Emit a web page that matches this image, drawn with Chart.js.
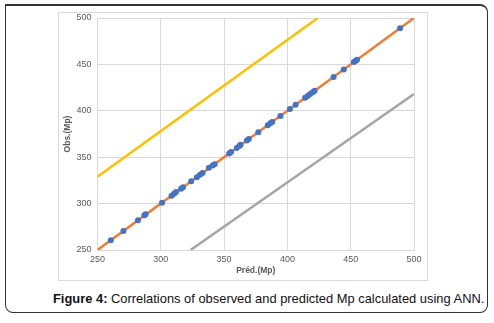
<!DOCTYPE html>
<html>
<head>
<meta charset="utf-8">
<script src="https://cdn.jsdelivr.net/npm/chart.js@4/dist/chart.umd.min.js"></script>
<style>
  body { margin: 0; background: #fff; font-family: "Liberation Sans", Arial, sans-serif; }
  #page { position: relative; width: 494px; height: 323px; }
  #frame {
    position: absolute; left: 5px; top: 4px; width: 481px; height: 306px;
    border: 1.5px solid #333; border-top-width: 2px; border-radius: 0 8px 8px 8px;
  }
  #box {
    position: absolute; left: 58px; top: 12px; width: 368px; height: 267px;
    border: 1px solid #d9d9d9;
  }
  #caption {
    position: absolute; left: 53px; top: 291px; font-size: 12.9px; color: #111; white-space: nowrap;
  }
</style>
</head>
<body>
<div id="page">
  <div id="frame"></div>
  <div id="box"><canvas id="chart" width="368" height="267"></canvas></div>
  <div id="caption"><b>Figure 4:</b> Correlations of observed and predicted Mp calculated using ANN.</div>
</div>
<script>
// predicted vs observed melting points (Mp)
const predicted = [260.5, 270.5, 282, 287, 288, 301, 308.5, 310.5, 312, 316, 317.5, 324, 328.5, 331, 333,
  338, 341, 342.5, 354, 355.5, 360, 362, 363, 368, 369.5, 377, 384.5, 386.5, 388, 394.5, 402, 406.5,
  414, 416, 418, 420, 421.5, 436.5, 444.5, 452.5, 454, 455, 489];
const observed = [260.5, 270.5, 282, 287.5, 288.5, 301, 308.5, 310.5, 312.5, 316, 317.5, 324, 328.5, 331, 333,
  338.5, 341, 342.5, 354, 355.5, 360, 362, 363.5, 368, 369.5, 377, 384.5, 386.5, 388, 394.5, 402, 406.5,
  414, 416, 418, 420, 421.5, 436.5, 444.5, 452.5, 454, 455, 489];

// reference lines
const idealX = [250, 500], idealY = [250, 500];
const upperX = [250, 424], upperY = [329, 500];
const lowerX = [323.5, 500], lowerY = [250, 418];

const toXY = (xs, ys) => xs.map((x, i) => ({ x: x, y: ys[i] }));

const tickFont = { family: 'Liberation Sans', size: 9 };
const titleFont = { family: 'Liberation Sans', size: 8.5, weight: 'bold' };

new Chart(document.getElementById('chart').getContext('2d'), {
  type: 'scatter',
  data: {
    datasets: [
      {
        label: 'Mp',
        data: toXY(predicted, observed),
        backgroundColor: '#4472c4',
        borderColor: '#4472c4',
        pointRadius: 3,
        pointBorderWidth: 0,
      },
      {
        type: 'line', label: 'ideal', data: toXY(idealX, idealY),
        borderColor: '#ed7d31', borderWidth: 2.5, pointRadius: 0,
      },
      {
        type: 'line', label: 'upper', data: toXY(upperX, upperY),
        borderColor: '#ffc000', borderWidth: 2.5, pointRadius: 0,
      },
      {
        type: 'line', label: 'lower', data: toXY(lowerX, lowerY),
        borderColor: '#a5a5a5', borderWidth: 2.5, pointRadius: 0,
      },
    ],
  },
  options: {
    responsive: false,
    animation: false,
    layout: { padding: { left: 0, right: 13, top: 5, bottom: 0 } },
    plugins: { legend: { display: false }, tooltip: { enabled: false } },
    scales: {
      x: {
        type: 'linear', min: 250, max: 500,
        ticks: { stepSize: 50, color: '#595959', font: tickFont, padding: 4 },
        grid: { color: '#d9d9d9', drawTicks: false },
        border: { color: '#d9d9d9' },
        title: { display: true, text: 'Préd.(Mp)', color: '#595959', font: titleFont, padding: { top: 0, bottom: 4 } },
        afterFit: (s) => { s.height = 30; s.paddingLeft = 0; s.paddingRight = 0; },
      },
      y: {
        type: 'linear', min: 250, max: 500,
        ticks: { stepSize: 50, color: '#595959', font: tickFont, padding: 6 },
        grid: { color: '#d9d9d9', drawTicks: false },
        border: { color: '#d9d9d9' },
        title: { display: true, text: 'Obs.(Mp)', color: '#595959', font: titleFont, padding: { top: 4, bottom: 0 } },
        afterFit: (s) => { s.width = 38.5; s.paddingTop = 0; s.paddingBottom = 0; },
      },
    },
  },
});
</script>
</body>
</html>
